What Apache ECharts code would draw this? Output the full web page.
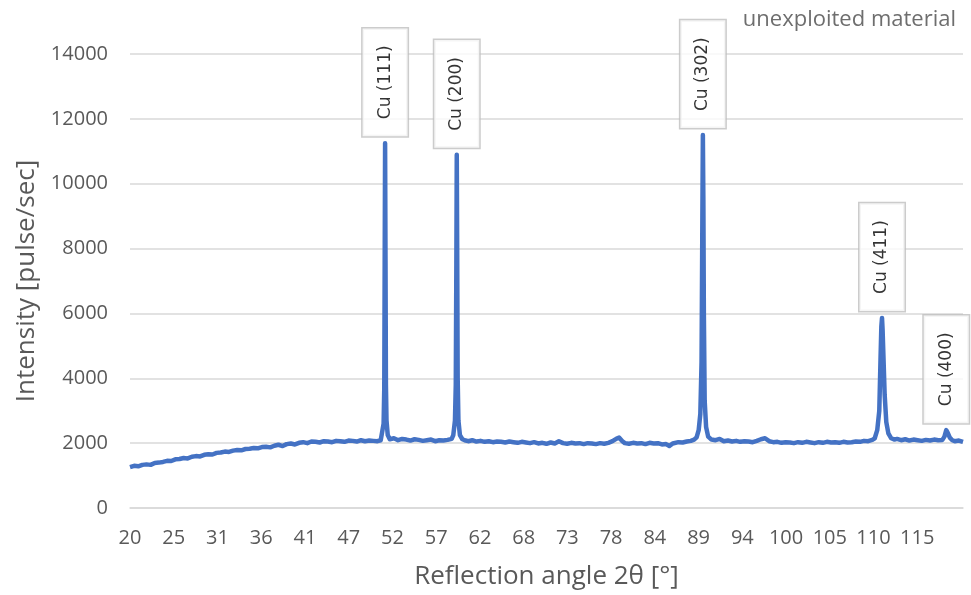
<!DOCTYPE html>
<html>
<head>
	<meta charset="utf-8">
	<title>XRD</title>
	<script src="https://cdn.jsdelivr.net/npm/echarts@6/dist/echarts.min.js"></script>
	<style>
		html, body { margin:0; padding:0; background:#fff; }
		#main { width:971px; height:595px; }
	</style>
</head>
<body>
	<div id="main"></div>
<script type="text/javascript">
	// 2θ angle [°] and intensity [pulse/sec]
	var angle = [
		20.0, 20.5, 21.0, 21.5, 22.0, 22.5, 23.0, 23.5, 24.0, 24.5,
		25.0, 25.5, 26.0, 26.5, 27.0, 27.5, 28.0, 28.5, 29.0, 29.5,
		30.0, 30.5, 31.0, 31.5, 32.0, 32.5, 33.0, 33.5, 34.0, 34.5,
		35.0, 35.5, 36.0, 36.5, 37.0, 37.5, 38.0, 38.5, 39.0, 39.5,
		40.0, 40.5, 41.0, 41.5, 42.0, 42.5, 43.0, 43.5, 44.0, 44.5,
		45.0, 45.5, 46.0, 46.5, 47.0, 47.5, 48.0, 48.5, 49.0, 49.5,
		50.0, 50.4, 50.6, 50.75, 50.83, 50.88, 50.93, 50.98, 51.03, 51.1, 51.25,
		51.5, 52.0, 52.5, 53.0, 53.5, 54.0, 54.5, 55.0, 55.5, 56.0,
		56.5, 57.0, 57.5, 58.0, 58.5, 59.0,
		59.2, 59.4, 59.5, 59.57, 59.62, 59.67, 59.73, 59.82, 60.0,
		60.3, 60.7, 61.0, 61.5, 62.0, 62.5, 63.0, 63.5, 64.0, 64.5,
		65.0, 65.5, 66.0, 66.5, 67.0, 67.5, 68.0, 68.5, 69.0, 69.5,
		70.0, 70.5, 71.0, 71.5, 72.0, 72.5, 73.0, 73.5, 74.0, 74.5,
		75.0, 75.5, 76.0, 76.5, 77.0, 77.5, 78.0, 78.5, 79.0, 79.3, 79.7,
		80.0, 80.5, 81.0, 81.5, 82.0, 82.5, 83.0, 83.5, 84.0, 84.5,
		85.0, 85.4, 85.8, 86.0, 86.5, 87.0, 87.5, 88.0, 88.4,
		88.7, 88.95, 89.15, 89.3, 89.4, 89.46, 89.52, 89.58, 89.68, 89.85, 90.1,
		90.5, 91.0, 91.5, 92.0, 92.5, 93.0, 93.5, 94.0, 94.5,
		95.0, 95.5, 96.0, 96.5, 97.0, 97.5, 98.0, 98.5, 99.0, 99.5,
		100.0, 100.5, 101.0, 101.5, 102.0, 102.5, 103.0, 103.5, 104.0, 104.5,
		105.0, 105.5, 106.0, 106.5, 107.0, 107.5, 108.0, 108.5, 109.0, 109.5,
		110.0, 110.3, 110.6, 110.85, 111.0, 111.1, 111.18, 111.25, 111.35, 111.5, 111.7, 111.95, 112.3,
		112.7, 113.0, 113.5, 114.0, 114.5, 115.0, 115.5, 116.0, 116.5, 117.0,
		117.5, 118.0, 118.5, 118.75, 118.97, 119.15, 119.4, 119.7,
		120.0, 120.5, 121.0
	];
	var intensity = [
		1260, 1300, 1285, 1330, 1345, 1330, 1390, 1400, 1420, 1455,
		1450, 1500, 1510, 1540, 1530, 1580, 1600, 1590, 1640, 1660,
		1650, 1700, 1710, 1740, 1730, 1770, 1790, 1780, 1820, 1830,
		1850, 1840, 1880, 1890, 1870, 1920, 1950, 1910, 1970, 1990,
		1960, 2010, 2030, 2000, 2050, 2040, 2020, 2060, 2050, 2030,
		2070, 2060, 2040, 2080, 2070, 2050, 2090, 2060, 2080, 2070,
		2060, 2090, 2150, 2600, 3700, 7500, 11250, 7600, 3800, 2700, 2250,
		2120, 2150, 2090, 2130, 2110, 2080, 2120, 2100, 2070, 2090,
		2110, 2060, 2090, 2080, 2100, 2130,
		2250, 2700, 3800, 7500, 10890, 8000, 4000, 2700, 2250,
		2120, 2080, 2060, 2090, 2050, 2070, 2040, 2060, 2030, 2050,
		2040, 2020, 2050, 2030, 2010, 2040, 2020, 2000, 2030, 1990,
		2010, 1980, 2020, 1990, 2060, 2000, 1980, 2010, 1990, 2000,
		1970, 2000, 1990, 1970, 2000, 1980, 2010, 2060, 2140, 2170, 2060,
		2000, 1980, 2010, 1990, 2000, 1970, 2010, 1990, 2000, 1960,
		1970, 1910, 1990, 2000, 2030, 2020, 2050, 2070, 2110,
		2180, 2400, 2900, 4500, 9000, 11500, 9500, 6000, 3300, 2500, 2200,
		2110, 2090, 2130, 2060, 2080, 2050, 2070, 2040, 2060,
		2050, 2030, 2070, 2120, 2150, 2060, 2030, 2040, 2010, 2030,
		2020, 2000, 2030, 2010, 2040, 2020, 2000, 2030, 2010, 2040,
		2020, 2030, 2010, 2040, 2020, 2030, 2050, 2040, 2070, 2060,
		2100, 2150, 2400, 3000, 4600, 5600, 5860, 5500, 4700, 3500, 2650, 2300, 2150,
		2110, 2130, 2090, 2120, 2080, 2110, 2090, 2070, 2100, 2080,
		2110, 2090, 2100, 2200, 2400, 2320, 2170, 2090,
		2060, 2080, 2040
	];

	// peak annotations
	var peakNames = ['Cu (111)', 'Cu (200)', 'Cu (302)', 'Cu (411)', 'Cu (400)'];
	var peakAngle = [50.93, 59.62, 89.46, 111.18, 118.97];
	var peakIntensity = [11250, 10890, 11500, 5860, 2400];

	// x tick labels (Excel category-style labels, rounded)
	var xTickStep = 5.303;
	var xTickLabels = [20, 25, 31, 36, 41, 47, 52, 57, 62, 68, 73, 78, 84, 89, 94, 100, 105, 110, 115];

	var xTicks = [];
	for (var i = 0; i < xTickLabels.length; i++) {
		xTicks.push(20 + i * xTickStep);
	}

	var lineData = [];
	for (var i = 0; i < angle.length; i++) {
		lineData.push([angle[i], intensity[i]]);
	}
	var peakData = [];
	for (var i = 0; i < peakNames.length; i++) {
		peakData.push({name: peakNames[i], value: [peakAngle[i], peakIntensity[i]]});
	}

	var gray = '#595959';
	var font = '"Open Sans", "Noto Sans", sans-serif';

	var option = {
		animation: false,
		title: {
			text: 'unexploited material',
			right: 10,
			top: 4,
			textStyle: {fontFamily: font, fontSize: 22, fontWeight: 'normal', color: '#6e6e6e'}
		},
		grid: {left: 130, right: 8, top: 54, bottom: 87},
		xAxis: {
			type: 'value',
			min: 20,
			max: 121,
			name: 'Reflection angle 2θ [°]',
			nameLocation: 'middle',
			nameGap: 56,
			nameTextStyle: {fontFamily: font, fontSize: 26, color: gray},
			axisLine: {show: true, lineStyle: {color: '#d9d9d9', width: 1.5}},
			axisTick: {show: false},
			splitLine: {show: false},
			axisLabel: {
				customValues: xTicks,
				margin: 20,
				fontFamily: font,
				fontSize: 20,
				color: gray,
				formatter: function(v){ return String(Math.round(v)); }
			}
		},
		yAxis: {
			type: 'value',
			min: 0,
			max: 14000,
			interval: 2000,
			name: 'Intensity [pulse/sec]',
			nameLocation: 'middle',
			nameGap: 89,
			nameTextStyle: {fontFamily: font, fontSize: 26, color: gray},
			axisLine: {show: false},
			axisTick: {show: false},
			axisLabel: {
				margin: 22,
				fontFamily: font,
				fontSize: 20,
				color: gray,
				formatter: function(v){ return String(v); }
			},
			splitLine: {lineStyle: {color: '#d9d9d9', width: 1.5}}
		},
		series: [
			{
				type: 'line',
				data: lineData,
				showSymbol: false,
				lineStyle: {color: '#4472c4', width: 4.5, join: 'round'},
				itemStyle: {color: '#4472c4'},
				z: 2
			},
			{
				type: 'scatter',
				data: peakData,
				symbolSize: 0,
				z: 5,
				label: {
					show: true,
					formatter: '{b}',
					position: 'top',
					distance: 7,
					rotate: 90,
					align: 'left',
					verticalAlign: 'middle',
					fontFamily: '"DejaVu Sans", sans-serif',
					fontSize: 17,
					lineHeight: 19,
					color: '#000',
					backgroundColor: '#fff',
					borderColor: '#bfbfbf',
					borderWidth: 1.5,
					padding: [13, 17, 13, 17]
				}
			}
		]
	};

	var myChart = echarts.init(document.getElementById('main'));
	myChart.setOption(option);
</script>
</body>
</html>
